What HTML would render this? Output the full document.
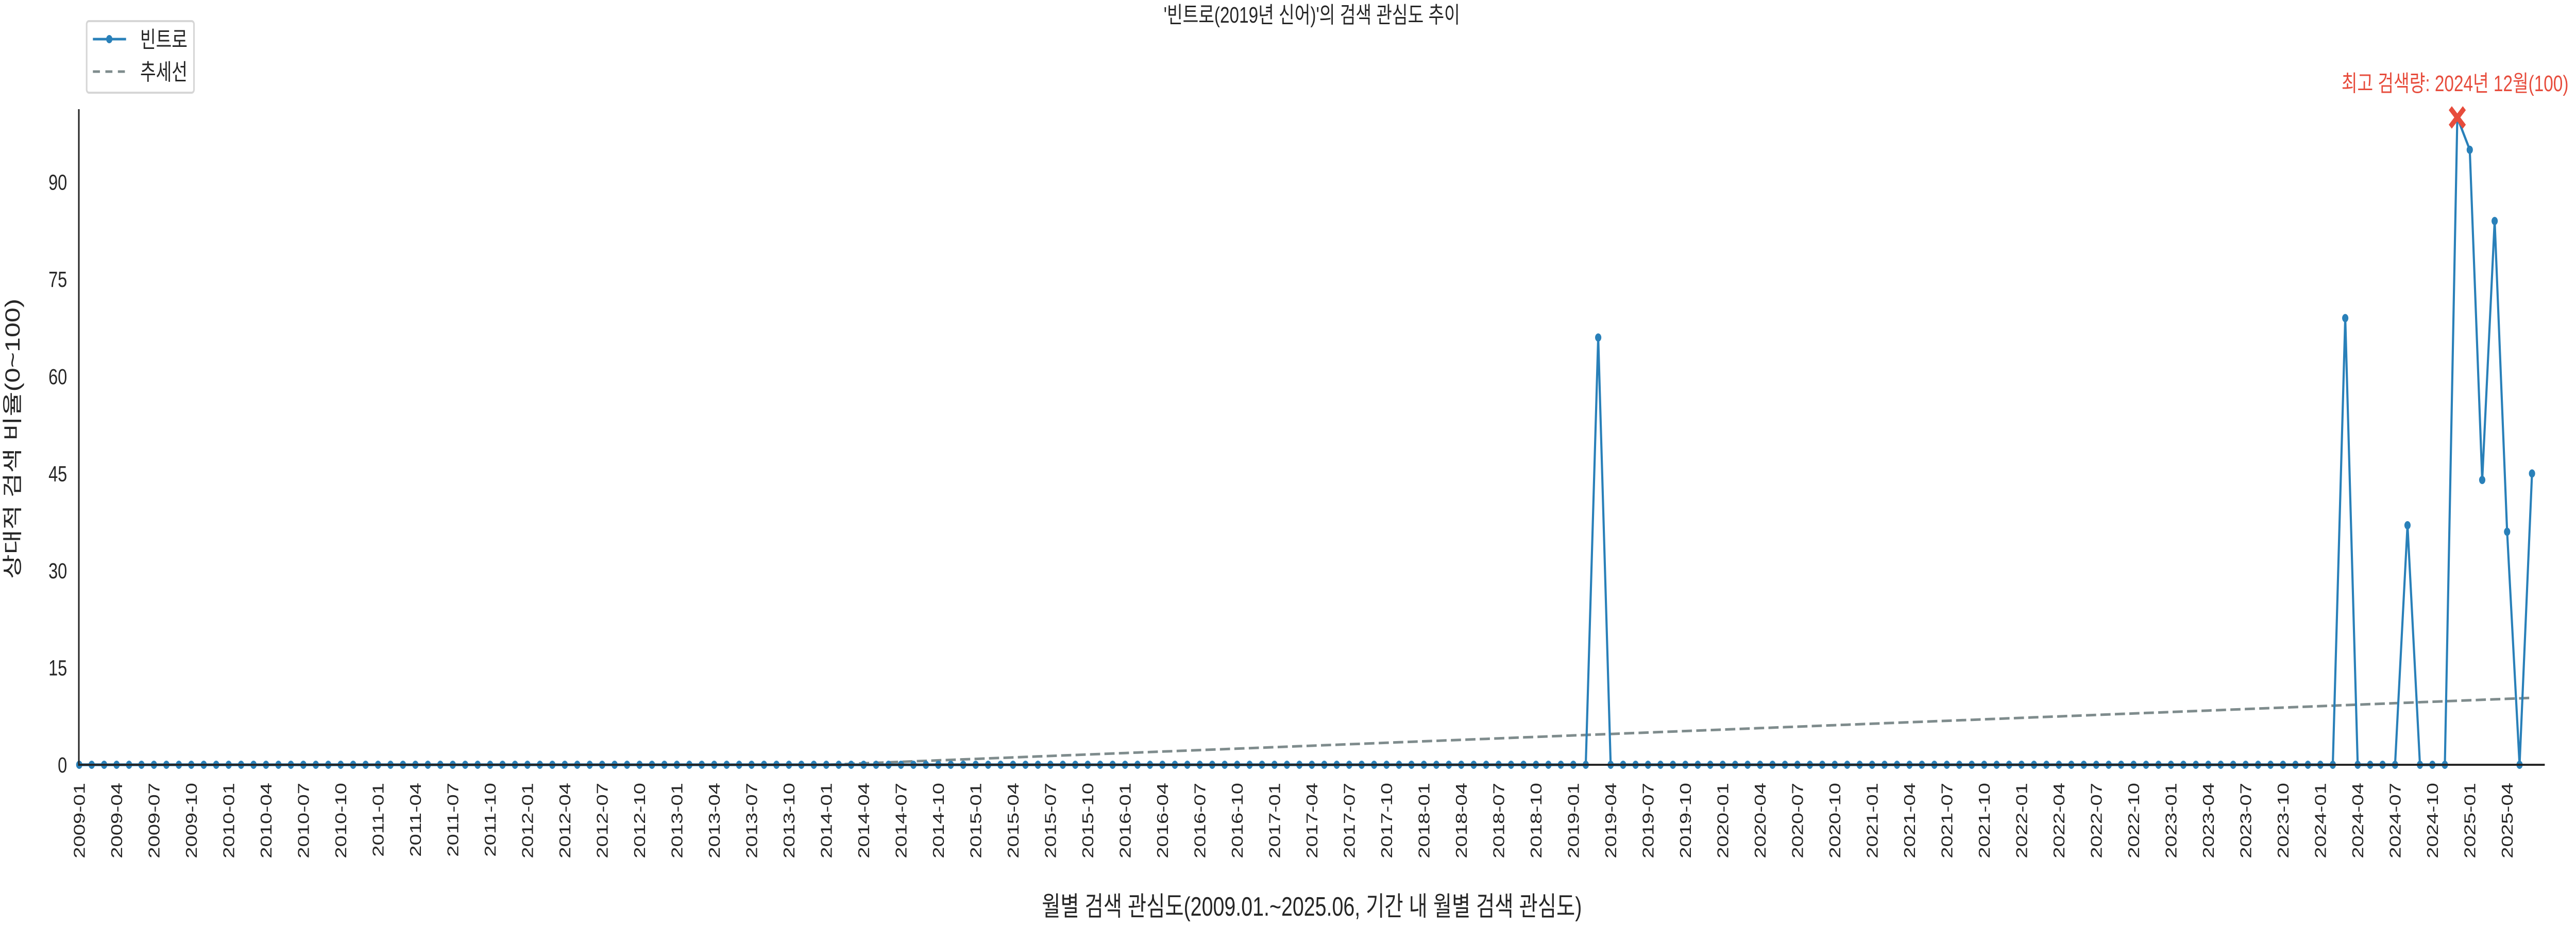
<!DOCTYPE html>
<html><head><meta charset="utf-8">
<style>
html,body{margin:0;padding:0;background:#fff;width:100%;height:100%;overflow:hidden;}
svg{display:block;position:absolute;left:0;top:0;width:100vw;height:100vh;}
text{font-family:"Liberation Sans","Noto Sans CJK KR",sans-serif;fill:#262626;}
</style></head>
<body>
<svg id="chart" viewBox="0 0 6600 1800" preserveAspectRatio="none" xmlns="http://www.w3.org/2000/svg">
  <text x="3361" y="44" font-size="44" text-anchor="middle">'빈트로(2019년 신어)'의 검색 관심도 추이</text>
  <g id="trend"></g>
  <g id="series"></g>
  <g id="axes">
    <line x1="202" y1="212" x2="202" y2="1487" stroke="#262626" stroke-width="4"/>
    <line x1="200" y1="1485" x2="6520" y2="1485" stroke="#262626" stroke-width="4"/>
  </g>
  <g id="yticks"></g>
  <g id="xticks"></g>
  <g id="annot"></g>
  <text x="0" y="0" font-size="52" text-anchor="middle" transform="translate(50,852) rotate(-90)">상대적 검색 비율(0~100)</text>
  <text x="3361" y="1778" font-size="52" text-anchor="middle">월별 검색 관심도(2009.01.~2025.06, 기간 내 월별 검색 관심도)</text>
  <g>
    <rect x="222" y="41" width="275" height="139" rx="6" fill="#fff" stroke="#d6d6d6" stroke-width="4"/>
    <g>
      <line x1="238" y1="76" x2="323" y2="76" stroke="#2980b9" stroke-width="5"/>
      <circle cx="280" cy="76" r="8" fill="#2980b9"/>
      <text x="359" y="92" font-size="44">빈트로</text>
    </g>
    <g>
      <line x1="238" y1="139" x2="323" y2="139" stroke="#7f8c8d" stroke-width="5" stroke-dasharray="18,14"/>
      <text x="359" y="155" font-size="44">추세선</text>
    </g>
  </g>
</svg>
<script>
// ---- data ----
const startYear = 2009;
const monthCount = 198; // 2009-01 .. 2025-06
const spikeMonths = ["2019-03","2024-03","2024-08","2024-12","2025-01","2025-02","2025-03","2025-04","2025-06"];
const spikeValues = [66, 69, 37, 100, 95, 44, 84, 36, 45];
const yTicks = [0, 15, 30, 45, 60, 75, 90];
const peakLabel = "최고 검색량: 2024년 12월(100)";

// ---- scales ----
const NS = "http://www.w3.org/2000/svg";
const X0 = 203, DX = 31.9, Y0 = 1485, KY = 12.57;
function xScale(i){ return X0 + i * DX; }
function yScale(v){ return Y0 - v * KY; }
function mk(tag, attrs, parent){
  const e = document.createElementNS(NS, tag);
  for (const k in attrs) e.setAttribute(k, attrs[k]);
  parent.appendChild(e); return e;
}
function label(i){ const y = startYear + Math.floor(i/12); const m = i%12+1; return y + "-" + (m<10?"0"+m:m); }

const labels = [], values = [];
for (let i = 0; i < monthCount; i++){
  labels.push(label(i));
  const k = spikeMonths.indexOf(labels[i]);
  values.push(k >= 0 ? spikeValues[k] : 0);
}

const yt = document.getElementById("yticks");
yTicks.forEach(v => {
  const t = mk("text", {x: 172, y: yScale(v) + 15, "font-size": 43, "text-anchor": "end"}, yt);
  
  
  t.textContent = v;
});

const xt = document.getElementById("xticks");
for (let i = 0; i < monthCount; i += 3){
  const x = xScale(i);
  const t = mk("text", {x: 0, y: 0, "font-size": 40, "text-anchor": "end", transform: `translate(${x+14},1520) rotate(-90)`}, xt);
  
  
  t.textContent = labels[i];
}

const n = values.length;
let mi = 0, my = 0;
for (let i = 0; i < n; i++){ mi += i; my += values[i]; }
mi /= n; my /= n;
let sxy = 0, sxx = 0;
for (let i = 0; i < n; i++){ sxy += (i-mi)*(values[i]-my); sxx += (i-mi)*(i-mi); }
const slope = sxy / sxx, icpt = my - slope * mi;
const tp = [];
for (let i = 0; i < n; i++){ tp.push(xScale(i).toFixed(1) + "," + yScale(Math.max(0, icpt + slope*i)).toFixed(1)); }
const tl = mk("polyline", {points: tp.join(" "), fill: "none", stroke: "#7f8c8d", "stroke-width": 5, "stroke-dasharray": "26,11"}, document.getElementById("trend"));



const sg = document.getElementById("series");
const pts = values.map((v,i) => xScale(i).toFixed(1) + "," + yScale(v).toFixed(1));
const pl = mk("polyline", {points: pts.join(" "), fill: "none", stroke: "#2980b9", "stroke-width": 5.5, "stroke-linejoin": "round"}, sg);


values.forEach((v,i) => {
  const c = mk("circle", {cx: xScale(i), cy: yScale(v), r: 8, fill: "#2980b9"}, sg);
  
  
});

let pk = 0;
for (let i = 1; i < n; i++) if (values[i] > values[pk]) pk = i;
const ag = document.getElementById("annot");
const px = xScale(pk), py = yScale(values[pk]);
const xm = mk("path", {d: `M${px-18},${py-18}L${px+18},${py+18}M${px+18},${py-18}L${px-18},${py+18}`, stroke: "#e74c3c", "stroke-width": 11, fill: "none"}, ag);


const at = mk("text", {x: 6290, y: 177, "font-size": 44, "text-anchor": "middle", style: "fill:#e74c3c"}, ag);


at.textContent = peakLabel;
</script>
</body></html>
